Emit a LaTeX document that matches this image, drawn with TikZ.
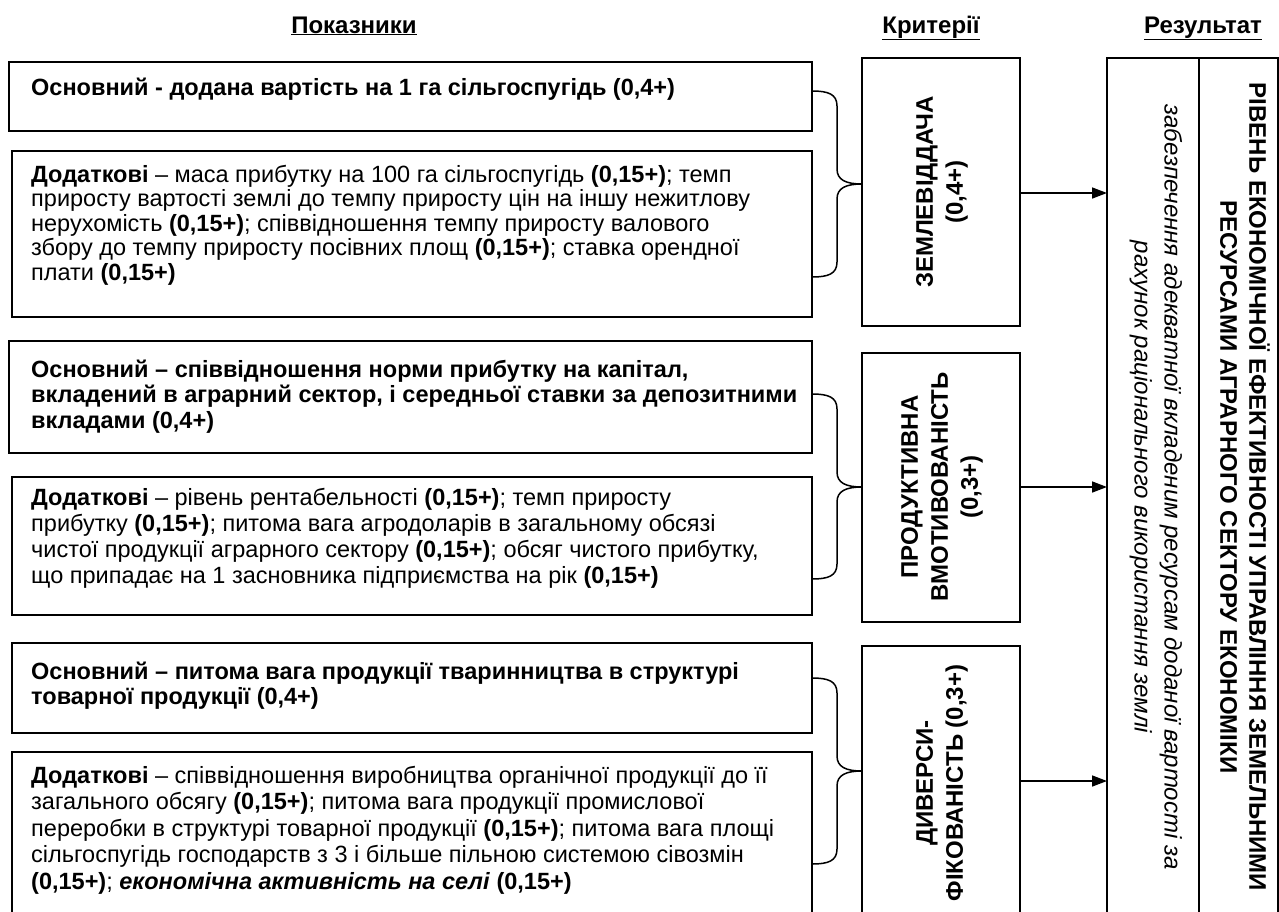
\documentclass[tikz,border=0pt]{standalone}
\usepackage{fontspec}
\setmainfont{Liberation Sans}
\usetikzlibrary{arrows.meta,calc}
\newcommand\bodyfs[1]{\fontsize{23.5}{#1}\selectfont}
\newcommand\mybrace[3]{%
 \draw[brc] (812,#1) .. controls (828,#1) and (837,#1+3) .. (837,#1+15)
   -- (837,#2-15) .. controls (837,#2-4) and (846,#2) .. (862,#2)
   .. controls (846,#2) and (837,#2+4) .. (837,#2+15)
   -- (837,#3-15) .. controls (837,#3-3) and (828,#3) .. (812,#3);}
\begin{document}
\begin{tikzpicture}[x=1pt,y=-1pt,
  box/.style={draw, line width=1.8pt},
  brc/.style={line width=1.5pt},
  txt/.style={anchor=base west, inner sep=0pt},
  hdr/.style={inner sep=0pt, font=\fontsize{24}{28}\selectfont\bfseries},
  crit/.style={inner sep=0pt, align=center, rotate=90, font=\fontsize{24}{30}\selectfont\bfseries},
  arr/.style={line width=1.6pt, -{Triangle[length=15pt,width=11pt]}}]
\useasboundingbox (0,0) rectangle (1279,911);
\clip (0,0) rectangle (1279,911);
% headers
\node[hdr, anchor=base] (h1) at (354,33) {\underline{Показники}};
\node[hdr, anchor=base] (h2) at (931,33) {\underline{Критерії}};
\node[hdr, anchor=base] (h3) at (1203,33) {\underline{Результат}};
% left boxes
\draw[box] (9,62) rectangle (812,131);
\draw[box] (12,151) rectangle (812,317);
\draw[box] (9,341) rectangle (812,453);
\draw[box] (12,477) rectangle (812,615);
\draw[box] (12,643) rectangle (812,733);
\draw[box] (12,752) rectangle (812,940);
\node[txt] (a1) at (31,95) {\bodyfs{25}\parbox[t]{790pt}{\raggedright\bfseries Основний - додана вартість на 1 га сільгоспугідь (0,4+)}};
\node[txt] (a2) at (31,182) {\bodyfs{24.5}\parbox[t]{790pt}{\raggedright\textbf{Додаткові} – маса прибутку на 100 га сільгоспугідь \textbf{(0,15+)}; темп\\
приросту вартості землі до темпу приросту цін на іншу нежитлову\\
нерухомість \textbf{(0,15+)}; співвідношення темпу приросту валового\\
збору до темпу приросту посівних площ \textbf{(0,15+)}; ставка орендної\\
плати \textbf{(0,15+)}}};
\node[txt] (b1) at (31,377) {\bodyfs{25.5}\parbox[t]{790pt}{\raggedright\bfseries Основний – співвідношення норми прибутку на капітал,\\
вкладений в аграрний сектор, і середньої ставки за депозитними\\
вкладами (0,4+)}};
\node[txt] (b2) at (31,505) {\bodyfs{26}\parbox[t]{790pt}{\raggedright\textbf{Додаткові} – рівень рентабельності \textbf{(0,15+)}; темп приросту\\
прибутку \textbf{(0,15+)}; питома вага агродоларів в загальному обсязі\\
чистої продукції аграрного сектору \textbf{(0,15+)}; обсяг чистого прибутку,\\
що припадає на 1 засновника підприємства на рік \textbf{(0,15+)}}};
\node[txt] (c1) at (31,679) {\bodyfs{25}\parbox[t]{790pt}{\raggedright\bfseries Основний – питома вага продукції тваринництва в структурі\\
товарної продукції (0,4+)}};
\node[txt] (c2) at (31,783) {\bodyfs{26.5}\parbox[t]{790pt}{\raggedright\textbf{Додаткові} – співвідношення виробництва органічної продукції до її\\
загального обсягу \textbf{(0,15+)}; питома вага продукції промислової\\
переробки в структурі товарної продукції \textbf{(0,15+)}; питома вага площі\\
сільгоспугідь господарств з 3 і більше пільною системою сівозмін\\
\textbf{(0,15+)}; \textbf{\textit{економічна активність на селі}} \textbf{(0,15+)}}};
% criteria boxes
\draw[box] (862,58) rectangle (1020,326);
\draw[box] (862,353) rectangle (1020,622);
\draw[box] (862,646) rectangle (1020,920);
\node[crit] (k1) at (942,192) {ЗЕМЛЕВІДДАЧА\\(0,4+)};
\node[crit] (k2) at (942,487) {ПРОДУКТИВНА\\ВМОТИВОВАНІСТЬ\\(0,3+)};
\node[crit] (k3) at (942,783) {ДИВЕРСИ-\\ФІКОВАНІСТЬ (0,3+)};
% braces
\mybrace{91}{184}{277}
\mybrace{394}{487}{579}
\mybrace{678}{771}{864}
% result box
\draw[box] (1107,58) rectangle (1278,916);
\draw[box] (1199,58) -- (1199,916);
\node[inner sep=0pt, align=center, rotate=-90, font=\fontsize{24}{30}\selectfont\itshape] (r1) at (1156,487)
  {забезпечення адекватної вкладеним ресурсам доданої вартості за\\рахунок раціонального використання землі};
\node[inner sep=0pt, align=center, rotate=-90, font=\fontsize{24}{29}\selectfont\bfseries] (r2) at (1245,487)
  {РІВЕНЬ ЕКОНОМІЧНОЇ ЕФЕКТИВНОСТІ УПРАВЛІННЯ ЗЕМЕЛЬНИМИ\\РЕСУРСАМИ АГРАРНОГО СЕКТОРУ ЕКОНОМІКИ};
% arrows
\coordinate (e1) at (1107,193);
\coordinate (e2) at (1107,487);
\coordinate (e3) at (1107,781);
\draw[arr] (1020,193) -- (e1);
\draw[arr] (1020,487) -- (e2);
\draw[arr] (1020,781) -- (e3);
\end{tikzpicture}
\end{document}
